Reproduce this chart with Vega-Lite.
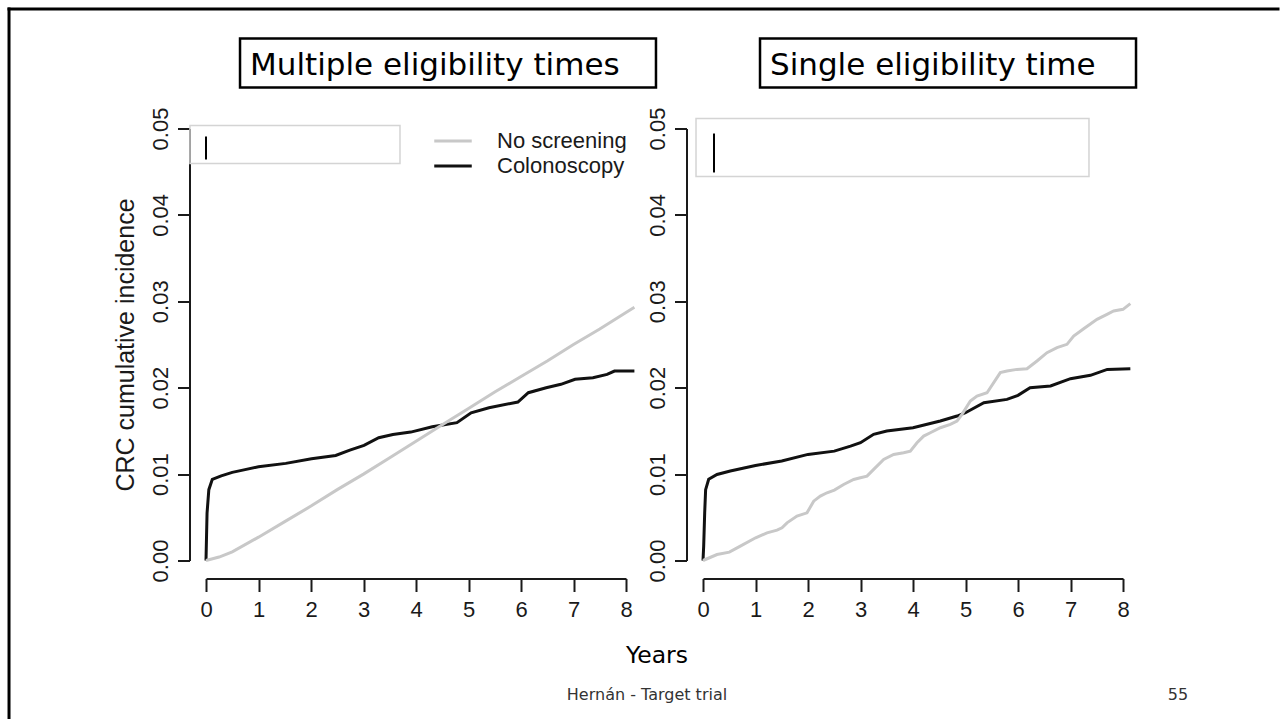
{
  "$schema": "https://vega.github.io/schema/vega-lite/v6.json",
  "background": "white",
  "autosize": {"type": "pad"},
  "padding": {"left": 6, "top": 6.5, "right": 0, "bottom": 0},
  "bounds": "flush",
  "spacing": 77,
  "datasets": {
    "border": [
      {"years": -3.752, "years2": -3.752, "incidence": 0.06383, "incidence2": -0.01817},
      {"years": -3.752, "years2": 20.419, "incidence": 0.06383, "incidence2": 0.06383}
    ],
    "boxes": [
      {"panel": "Multiple", "kind": "title", "years": 0.648, "years2": 8.571, "incidence": 0.06042, "incidence2": 0.05475},
      {"panel": "Single", "kind": "title", "years": 1.086, "years2": 8.248, "incidence": 0.06042, "incidence2": 0.05475},
      {"panel": "Multiple", "kind": "placeholder", "years": -0.305, "years2": 3.695, "incidence": 0.05035, "incidence2": 0.04595},
      {"panel": "Single", "kind": "placeholder", "years": -0.133, "years2": 7.352, "incidence": 0.05116, "incidence2": 0.04444}
    ],
    "cursors": [
      {"panel": "Multiple", "years": 0, "incidence": 0.04907, "incidence2": 0.04641},
      {"panel": "Single", "years": 0.21, "incidence": 0.04942, "incidence2": 0.04491}
    ],
    "labels": [
      {"panel": "Multiple", "kind": "title", "label": "Multiple eligibility times", "years": 0.838, "incidence": 0.05625},
      {"panel": "Single", "kind": "title", "label": "Single eligibility time", "years": 1.276, "incidence": 0.05625},
      {"panel": "Multiple", "kind": "axis", "label": "Years", "years": 8.59, "incidence": -0.011806},
      {"panel": "Multiple", "kind": "footer", "label": "Hernán - Target trial", "years": 8.4, "incidence": -0.016088},
      {"panel": "Multiple", "kind": "footer", "label": "55", "years": 18.514, "incidence": -0.016088}
    ],
    "curves": [
      {"panel": "Multiple", "arm": "Colonoscopy", "years": 0, "incidence": 0},
      {"panel": "Multiple", "arm": "Colonoscopy", "years": 0.02, "incidence": 0.0055},
      {"panel": "Multiple", "arm": "Colonoscopy", "years": 0.054, "incidence": 0.0082},
      {"panel": "Multiple", "arm": "Colonoscopy", "years": 0.12, "incidence": 0.0094},
      {"panel": "Multiple", "arm": "Colonoscopy", "years": 0.29, "incidence": 0.0098},
      {"panel": "Multiple", "arm": "Colonoscopy", "years": 0.5, "incidence": 0.0102},
      {"panel": "Multiple", "arm": "Colonoscopy", "years": 0.7, "incidence": 0.01046},
      {"panel": "Multiple", "arm": "Colonoscopy", "years": 1.0, "incidence": 0.01085},
      {"panel": "Multiple", "arm": "Colonoscopy", "years": 1.52, "incidence": 0.01124},
      {"panel": "Multiple", "arm": "Colonoscopy", "years": 2.01, "incidence": 0.01178},
      {"panel": "Multiple", "arm": "Colonoscopy", "years": 2.47, "incidence": 0.01216},
      {"panel": "Multiple", "arm": "Colonoscopy", "years": 2.74, "incidence": 0.01278},
      {"panel": "Multiple", "arm": "Colonoscopy", "years": 3.01, "incidence": 0.01332},
      {"panel": "Multiple", "arm": "Colonoscopy", "years": 3.29, "incidence": 0.01421},
      {"panel": "Multiple", "arm": "Colonoscopy", "years": 3.56, "incidence": 0.01459},
      {"panel": "Multiple", "arm": "Colonoscopy", "years": 3.9, "incidence": 0.01486},
      {"panel": "Multiple", "arm": "Colonoscopy", "years": 4.31, "incidence": 0.01548},
      {"panel": "Multiple", "arm": "Colonoscopy", "years": 4.78, "incidence": 0.01595},
      {"panel": "Multiple", "arm": "Colonoscopy", "years": 5.05, "incidence": 0.0171},
      {"panel": "Multiple", "arm": "Colonoscopy", "years": 5.39, "incidence": 0.01768},
      {"panel": "Multiple", "arm": "Colonoscopy", "years": 5.94, "incidence": 0.01834},
      {"panel": "Multiple", "arm": "Colonoscopy", "years": 6.14, "incidence": 0.01942},
      {"panel": "Multiple", "arm": "Colonoscopy", "years": 6.48, "incidence": 0.02},
      {"panel": "Multiple", "arm": "Colonoscopy", "years": 6.76, "incidence": 0.02039},
      {"panel": "Multiple", "arm": "Colonoscopy", "years": 7.03, "incidence": 0.02097},
      {"panel": "Multiple", "arm": "Colonoscopy", "years": 7.37, "incidence": 0.02116},
      {"panel": "Multiple", "arm": "Colonoscopy", "years": 7.64, "incidence": 0.02154},
      {"panel": "Multiple", "arm": "Colonoscopy", "years": 7.78, "incidence": 0.02193},
      {"panel": "Multiple", "arm": "Colonoscopy", "years": 8.16, "incidence": 0.02193},
      {"panel": "Multiple", "arm": "No screening", "years": 0, "incidence": 0},
      {"panel": "Multiple", "arm": "No screening", "years": 0.25, "incidence": 0.0004},
      {"panel": "Multiple", "arm": "No screening", "years": 0.5, "incidence": 0.001},
      {"panel": "Multiple", "arm": "No screening", "years": 1, "incidence": 0.0027},
      {"panel": "Multiple", "arm": "No screening", "years": 1.5, "incidence": 0.0045},
      {"panel": "Multiple", "arm": "No screening", "years": 2, "incidence": 0.0063},
      {"panel": "Multiple", "arm": "No screening", "years": 2.5, "incidence": 0.0082},
      {"panel": "Multiple", "arm": "No screening", "years": 3, "incidence": 0.01},
      {"panel": "Multiple", "arm": "No screening", "years": 3.5, "incidence": 0.0119},
      {"panel": "Multiple", "arm": "No screening", "years": 4, "incidence": 0.0138},
      {"panel": "Multiple", "arm": "No screening", "years": 4.5, "incidence": 0.0157},
      {"panel": "Multiple", "arm": "No screening", "years": 5, "incidence": 0.0176},
      {"panel": "Multiple", "arm": "No screening", "years": 5.5, "incidence": 0.0195},
      {"panel": "Multiple", "arm": "No screening", "years": 6, "incidence": 0.0213},
      {"panel": "Multiple", "arm": "No screening", "years": 6.5, "incidence": 0.0231},
      {"panel": "Multiple", "arm": "No screening", "years": 7, "incidence": 0.025},
      {"panel": "Multiple", "arm": "No screening", "years": 7.5, "incidence": 0.0268},
      {"panel": "Multiple", "arm": "No screening", "years": 8, "incidence": 0.0287},
      {"panel": "Multiple", "arm": "No screening", "years": 8.16, "incidence": 0.0293},
      {"panel": "Single", "arm": "Colonoscopy", "years": 0, "incidence": 0},
      {"panel": "Single", "arm": "Colonoscopy", "years": 0.013, "incidence": 0.00166},
      {"panel": "Single", "arm": "Colonoscopy", "years": 0.032, "incidence": 0.0055},
      {"panel": "Single", "arm": "Colonoscopy", "years": 0.05, "incidence": 0.0082},
      {"panel": "Single", "arm": "Colonoscopy", "years": 0.108, "incidence": 0.0094},
      {"panel": "Single", "arm": "Colonoscopy", "years": 0.267, "incidence": 0.00996},
      {"panel": "Single", "arm": "Colonoscopy", "years": 0.52, "incidence": 0.01035},
      {"panel": "Single", "arm": "Colonoscopy", "years": 1.0, "incidence": 0.011},
      {"panel": "Single", "arm": "Colonoscopy", "years": 1.5, "incidence": 0.01151},
      {"panel": "Single", "arm": "Colonoscopy", "years": 2.0, "incidence": 0.01228},
      {"panel": "Single", "arm": "Colonoscopy", "years": 2.5, "incidence": 0.01266},
      {"panel": "Single", "arm": "Colonoscopy", "years": 2.81, "incidence": 0.01324},
      {"panel": "Single", "arm": "Colonoscopy", "years": 3.0, "incidence": 0.01363},
      {"panel": "Single", "arm": "Colonoscopy", "years": 3.25, "incidence": 0.0146},
      {"panel": "Single", "arm": "Colonoscopy", "years": 3.5, "incidence": 0.01498},
      {"panel": "Single", "arm": "Colonoscopy", "years": 4.0, "incidence": 0.01537},
      {"panel": "Single", "arm": "Colonoscopy", "years": 4.52, "incidence": 0.01614},
      {"panel": "Single", "arm": "Colonoscopy", "years": 4.84, "incidence": 0.01672},
      {"panel": "Single", "arm": "Colonoscopy", "years": 5.0, "incidence": 0.0171},
      {"panel": "Single", "arm": "Colonoscopy", "years": 5.35, "incidence": 0.01826},
      {"panel": "Single", "arm": "Colonoscopy", "years": 5.79, "incidence": 0.01865},
      {"panel": "Single", "arm": "Colonoscopy", "years": 6.0, "incidence": 0.01911},
      {"panel": "Single", "arm": "Colonoscopy", "years": 6.23, "incidence": 0.02},
      {"panel": "Single", "arm": "Colonoscopy", "years": 6.62, "incidence": 0.0202},
      {"panel": "Single", "arm": "Colonoscopy", "years": 7.0, "incidence": 0.02104},
      {"panel": "Single", "arm": "Colonoscopy", "years": 7.38, "incidence": 0.02143},
      {"panel": "Single", "arm": "Colonoscopy", "years": 7.7, "incidence": 0.02212},
      {"panel": "Single", "arm": "Colonoscopy", "years": 8.14, "incidence": 0.0222},
      {"panel": "Single", "arm": "No screening", "years": 0, "incidence": 0},
      {"panel": "Single", "arm": "No screening", "years": 0.267, "incidence": 0.00069},
      {"panel": "Single", "arm": "No screening", "years": 0.502, "incidence": 0.00097},
      {"panel": "Single", "arm": "No screening", "years": 0.711, "incidence": 0.00166},
      {"panel": "Single", "arm": "No screening", "years": 1.003, "incidence": 0.00263},
      {"panel": "Single", "arm": "No screening", "years": 1.219, "incidence": 0.0032},
      {"panel": "Single", "arm": "No screening", "years": 1.41, "incidence": 0.00351},
      {"panel": "Single", "arm": "No screening", "years": 1.505, "incidence": 0.00378},
      {"panel": "Single", "arm": "No screening", "years": 1.6, "incidence": 0.00436},
      {"panel": "Single", "arm": "No screening", "years": 1.79, "incidence": 0.00514},
      {"panel": "Single", "arm": "No screening", "years": 1.981, "incidence": 0.00552},
      {"panel": "Single", "arm": "No screening", "years": 2.108, "incidence": 0.00687},
      {"panel": "Single", "arm": "No screening", "years": 2.235, "incidence": 0.00745},
      {"panel": "Single", "arm": "No screening", "years": 2.362, "incidence": 0.00784},
      {"panel": "Single", "arm": "No screening", "years": 2.502, "incidence": 0.00815},
      {"panel": "Single", "arm": "No screening", "years": 2.679, "incidence": 0.0088},
      {"panel": "Single", "arm": "No screening", "years": 2.87, "incidence": 0.00938},
      {"panel": "Single", "arm": "No screening", "years": 2.997, "incidence": 0.00958},
      {"panel": "Single", "arm": "No screening", "years": 3.124, "incidence": 0.00977},
      {"panel": "Single", "arm": "No screening", "years": 3.251, "incidence": 0.01054},
      {"panel": "Single", "arm": "No screening", "years": 3.441, "incidence": 0.0117},
      {"panel": "Single", "arm": "No screening", "years": 3.632, "incidence": 0.01228},
      {"panel": "Single", "arm": "No screening", "years": 3.822, "incidence": 0.01247},
      {"panel": "Single", "arm": "No screening", "years": 3.949, "incidence": 0.01266},
      {"panel": "Single", "arm": "No screening", "years": 4.076, "incidence": 0.01363},
      {"panel": "Single", "arm": "No screening", "years": 4.203, "incidence": 0.0144},
      {"panel": "Single", "arm": "No screening", "years": 4.33, "incidence": 0.01479},
      {"panel": "Single", "arm": "No screening", "years": 4.521, "incidence": 0.01537},
      {"panel": "Single", "arm": "No screening", "years": 4.711, "incidence": 0.01575},
      {"panel": "Single", "arm": "No screening", "years": 4.838, "incidence": 0.01614},
      {"panel": "Single", "arm": "No screening", "years": 4.933, "incidence": 0.01691},
      {"panel": "Single", "arm": "No screening", "years": 5.092, "incidence": 0.01846},
      {"panel": "Single", "arm": "No screening", "years": 5.219, "incidence": 0.01903},
      {"panel": "Single", "arm": "No screening", "years": 5.41, "incidence": 0.01942},
      {"panel": "Single", "arm": "No screening", "years": 5.663, "incidence": 0.02174},
      {"panel": "Single", "arm": "No screening", "years": 5.79, "incidence": 0.02193},
      {"panel": "Single", "arm": "No screening", "years": 5.981, "incidence": 0.02212},
      {"panel": "Single", "arm": "No screening", "years": 6.171, "incidence": 0.0222},
      {"panel": "Single", "arm": "No screening", "years": 6.362, "incidence": 0.02309},
      {"panel": "Single", "arm": "No screening", "years": 6.552, "incidence": 0.02405},
      {"panel": "Single", "arm": "No screening", "years": 6.743, "incidence": 0.02463},
      {"panel": "Single", "arm": "No screening", "years": 6.933, "incidence": 0.02502},
      {"panel": "Single", "arm": "No screening", "years": 7.06, "incidence": 0.02598},
      {"panel": "Single", "arm": "No screening", "years": 7.251, "incidence": 0.02683},
      {"panel": "Single", "arm": "No screening", "years": 7.505, "incidence": 0.02791},
      {"panel": "Single", "arm": "No screening", "years": 7.695, "incidence": 0.02849},
      {"panel": "Single", "arm": "No screening", "years": 7.822, "incidence": 0.02888},
      {"panel": "Single", "arm": "No screening", "years": 8.0, "incidence": 0.02907},
      {"panel": "Single", "arm": "No screening", "years": 8.14, "incidence": 0.02973}
    ]
  },
  "hconcat": [
    {
      "width": 420,
      "height": 432,
      "encoding": {
        "x": {
          "field": "years", "type": "quantitative",
          "scale": {"domain": [0, 8], "nice": false, "zero": false},
          "axis": {"values": [0, 1, 2, 3, 4, 5, 6, 7, 8], "format": "d", "title": null, "offset": 18, "tickSize": 13, "labelPadding": 8, "labelFlush": false, "labelOverlap": false}
        },
        "y": {
          "field": "incidence", "type": "quantitative",
          "scale": {"domain": [0, 0.05], "nice": false, "zero": false},
          "axis": {"values": [0, 0.01, 0.02, 0.03, 0.04, 0.05], "format": ".2f", "title": "CRC cumulative incidence", "titleFontSize": 25, "titlePadding": 11, "offset": 16.5, "tickSize": 12, "labelAngle": -90, "labelAlign": "center", "labelBaseline": "bottom", "labelPadding": 5, "labelFlush": false, "labelOverlap": false}
        }
      },
      "layer": [
        {
          "data": {"name": "border"},
          "mark": {"type": "rule", "stroke": "#000000", "strokeWidth": 3, "strokeCap": "square"},
          "encoding": {"x2": {"field": "years2"}, "y2": {"field": "incidence2"}}
        },
        {
          "data": {"name": "boxes"},
          "transform": [{"filter": "datum.panel === 'Multiple' && datum.kind === 'title'"}],
          "mark": {"type": "rect", "filled": false, "stroke": "#000000", "strokeWidth": 2.5},
          "encoding": {"x2": {"field": "years2"}, "y2": {"field": "incidence2"}}
        },
        {
          "data": {"name": "boxes"},
          "transform": [{"filter": "datum.panel === 'Multiple' && datum.kind === 'placeholder'"}],
          "mark": {"type": "rect", "filled": false, "stroke": "#d4d4d4", "strokeWidth": 1.5},
          "encoding": {"x2": {"field": "years2"}, "y2": {"field": "incidence2"}}
        },
        {
          "data": {"name": "cursors"},
          "transform": [{"filter": "datum.panel === 'Multiple'"}],
          "mark": {"type": "rule", "stroke": "#000000", "strokeWidth": 2},
          "encoding": {"y2": {"field": "incidence2"}}
        },
        {
          "data": {"name": "labels"},
          "transform": [{"filter": "datum.panel === 'Multiple' && datum.kind === 'title'"}],
          "mark": {"type": "text", "font": "DejaVu Sans", "fontSize": 31, "align": "left", "baseline": "alphabetic", "color": "#000000"},
          "encoding": {"text": {"field": "label"}}
        },
        {
          "data": {"name": "labels"},
          "transform": [{"filter": "datum.kind === 'axis'"}],
          "mark": {"type": "text", "font": "DejaVu Sans", "fontSize": 23.5, "align": "center", "baseline": "alphabetic", "color": "#000000"},
          "encoding": {"text": {"field": "label"}}
        },
        {
          "data": {"name": "labels"},
          "transform": [{"filter": "datum.kind === 'footer'"}],
          "mark": {"type": "text", "font": "DejaVu Sans", "fontSize": 16, "align": "center", "baseline": "alphabetic", "color": "#333333"},
          "encoding": {"text": {"field": "label"}}
        },
        {
          "data": {"name": "curves"},
          "transform": [{"filter": "datum.panel === 'Multiple'"}],
          "mark": {"type": "line", "strokeWidth": 3, "interpolate": "linear"},
          "encoding": {
            "color": {
              "field": "arm", "type": "nominal",
              "scale": {"domain": ["No screening", "Colonoscopy"], "range": ["#c8c8c8", "#111111"]},
              "legend": {"orient": "none", "legendX": 233, "legendY": -1.5, "title": null, "padding": 0, "rowPadding": 0, "symbolType": "M-1.5,0H1.5", "symbolSize": 625, "symbolStrokeWidth": 3, "labelFont": "Liberation Sans", "labelFontSize": 22, "labelColor": "#1a1a1a", "labelOffset": 30}
            }
          }
        }
      ]
    },
    {
      "width": 420,
      "height": 432,
      "encoding": {
        "x": {
          "field": "years", "type": "quantitative",
          "scale": {"domain": [0, 8], "nice": false, "zero": false},
          "axis": {"values": [0, 1, 2, 3, 4, 5, 6, 7, 8], "format": "d", "title": null, "offset": 18, "tickSize": 13, "labelPadding": 8, "labelFlush": false, "labelOverlap": false}
        },
        "y": {
          "field": "incidence", "type": "quantitative",
          "scale": {"domain": [0, 0.05], "nice": false, "zero": false},
          "axis": {"values": [0, 0.01, 0.02, 0.03, 0.04, 0.05], "format": ".2f", "title": null, "offset": 16.5, "tickSize": 12, "labelAngle": -90, "labelAlign": "center", "labelBaseline": "bottom", "labelPadding": 5, "labelFlush": false, "labelOverlap": false}
        }
      },
      "layer": [
        {
          "data": {"name": "boxes"},
          "transform": [{"filter": "datum.panel === 'Single' && datum.kind === 'title'"}],
          "mark": {"type": "rect", "filled": false, "stroke": "#000000", "strokeWidth": 2.5},
          "encoding": {"x2": {"field": "years2"}, "y2": {"field": "incidence2"}}
        },
        {
          "data": {"name": "boxes"},
          "transform": [{"filter": "datum.panel === 'Single' && datum.kind === 'placeholder'"}],
          "mark": {"type": "rect", "filled": false, "stroke": "#d4d4d4", "strokeWidth": 1.5},
          "encoding": {"x2": {"field": "years2"}, "y2": {"field": "incidence2"}}
        },
        {
          "data": {"name": "cursors"},
          "transform": [{"filter": "datum.panel === 'Single'"}],
          "mark": {"type": "rule", "stroke": "#000000", "strokeWidth": 2},
          "encoding": {"y2": {"field": "incidence2"}}
        },
        {
          "data": {"name": "labels"},
          "transform": [{"filter": "datum.panel === 'Single' && datum.kind === 'title'"}],
          "mark": {"type": "text", "font": "DejaVu Sans", "fontSize": 31, "align": "left", "baseline": "alphabetic", "color": "#000000"},
          "encoding": {"text": {"field": "label"}}
        },
        {
          "data": {"name": "curves"},
          "transform": [{"filter": "datum.panel === 'Single'"}],
          "mark": {"type": "line", "strokeWidth": 3, "interpolate": "linear"},
          "encoding": {
            "color": {
              "field": "arm", "type": "nominal",
              "scale": {"domain": ["No screening", "Colonoscopy"], "range": ["#c8c8c8", "#111111"]},
              "legend": null
            }
          }
        }
      ]
    }
  ],
  "config": {
    "view": {"stroke": null},
    "font": "Liberation Sans",
    "axis": {"domainColor": "#1a1a1a", "domainWidth": 2, "tickColor": "#1a1a1a", "tickWidth": 2, "labelColor": "#1a1a1a", "labelFont": "Liberation Sans", "labelFontSize": 22, "titleColor": "#1a1a1a", "titleFont": "Liberation Sans", "titleFontWeight": "normal", "grid": false}
  }
}
